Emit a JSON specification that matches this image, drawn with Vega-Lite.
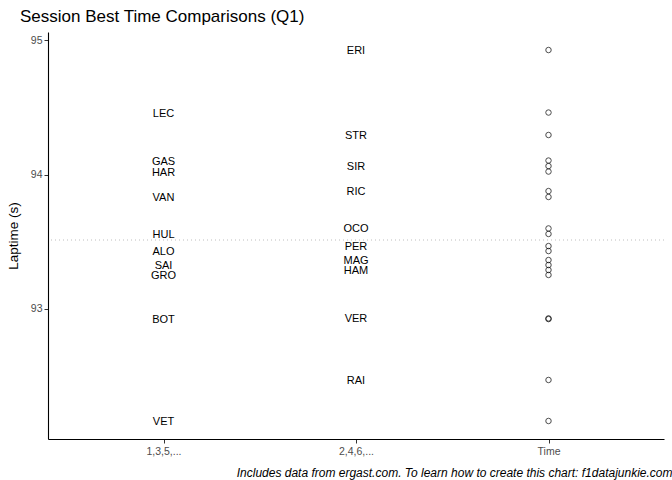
{
  "$schema": "https://vega.github.io/schema/vega-lite/v6.json",
  "autosize": "none",
  "width": 616,
  "height": 407,
  "padding": {"left": 48, "top": 32, "right": 8, "bottom": 41},
  "background": "white",
  "config": {
    "font": "Liberation Sans",
    "view": {"stroke": null},
    "axis": {"grid": false, "domainColor": "#000000", "domainWidth": 1.1, "tickColor": "#333333", "tickSize": 4, "labelColor": "#4D4D4D", "labelFontSize": 10.5, "titleFontWeight": "normal", "titleColor": "#000000", "titleFontSize": 13.5}
  },
  "title": {"text": "Session Best Time Comparisons (Q1)", "anchor": "start", "frame": "group", "dx": -28, "fontSize": 17, "fontWeight": "normal", "color": "#000000", "offset": 6},
  "data": {"values": [
    {"driver": "VET", "group": "1,3,5,...", "time": 92.167},
    {"driver": "RAI", "group": "2,4,6,...", "time": 92.472},
    {"driver": "BOT", "group": "1,3,5,...", "time": 92.925},
    {"driver": "VER", "group": "2,4,6,...", "time": 92.930},
    {"driver": "GRO", "group": "1,3,5,...", "time": 93.253},
    {"driver": "HAM", "group": "2,4,6,...", "time": 93.290},
    {"driver": "SAI", "group": "1,3,5,...", "time": 93.327},
    {"driver": "MAG", "group": "2,4,6,...", "time": 93.364},
    {"driver": "ALO", "group": "1,3,5,...", "time": 93.431},
    {"driver": "PER", "group": "2,4,6,...", "time": 93.468},
    {"driver": "HUL", "group": "1,3,5,...", "time": 93.558},
    {"driver": "OCO", "group": "2,4,6,...", "time": 93.599},
    {"driver": "VAN", "group": "1,3,5,...", "time": 93.833},
    {"driver": "RIC", "group": "2,4,6,...", "time": 93.877},
    {"driver": "HAR", "group": "1,3,5,...", "time": 94.022},
    {"driver": "SIR", "group": "2,4,6,...", "time": 94.063},
    {"driver": "GAS", "group": "1,3,5,...", "time": 94.104},
    {"driver": "STR", "group": "2,4,6,...", "time": 94.294},
    {"driver": "LEC", "group": "1,3,5,...", "time": 94.461},
    {"driver": "ERI", "group": "2,4,6,...", "time": 94.926}
  ]},
  "layer": [
    {
      "mark": {"type": "rule", "color": "#BEBEBE", "strokeDash": [1, 3], "strokeWidth": 1},
      "encoding": {"y": {"aggregate": "median", "field": "time", "type": "quantitative"}}
    },
    {
      "mark": {"type": "text", "fontSize": 11, "color": "#000000", "baseline": "middle", "align": "center", "dy": 1},
      "encoding": {
        "x": {"field": "group", "type": "ordinal",
              "scale": {"type": "point", "domain": ["1,3,5,...", "2,4,6,...", "Time"], "padding": 0.6},
              "axis": {"labelAngle": 0, "title": "Includes data from ergast.com. To learn how to create this chart: f1datajunkie.com",
                       "titleFontStyle": "italic", "titleFontSize": 12, "titleAlign": "right", "titleX": 624, "titleY": 37, "titleBaseline": "alphabetic", "labelPadding": 3}},
        "y": {"field": "time", "type": "quantitative",
              "scale": {"domain": [92.033, 95.06], "nice": false, "zero": false},
              "axis": {"values": [93, 94, 95], "format": "d", "title": "Laptime (s)", "titlePadding": 10}},
        "text": {"field": "driver"}
      }
    },
    {
      "mark": {"type": "point", "filled": false, "shape": "circle", "size": 30, "color": "#000000", "strokeWidth": 1},
      "encoding": {
        "x": {"datum": "Time", "type": "ordinal"},
        "y": {"field": "time", "type": "quantitative"}
      }
    }
  ]
}
